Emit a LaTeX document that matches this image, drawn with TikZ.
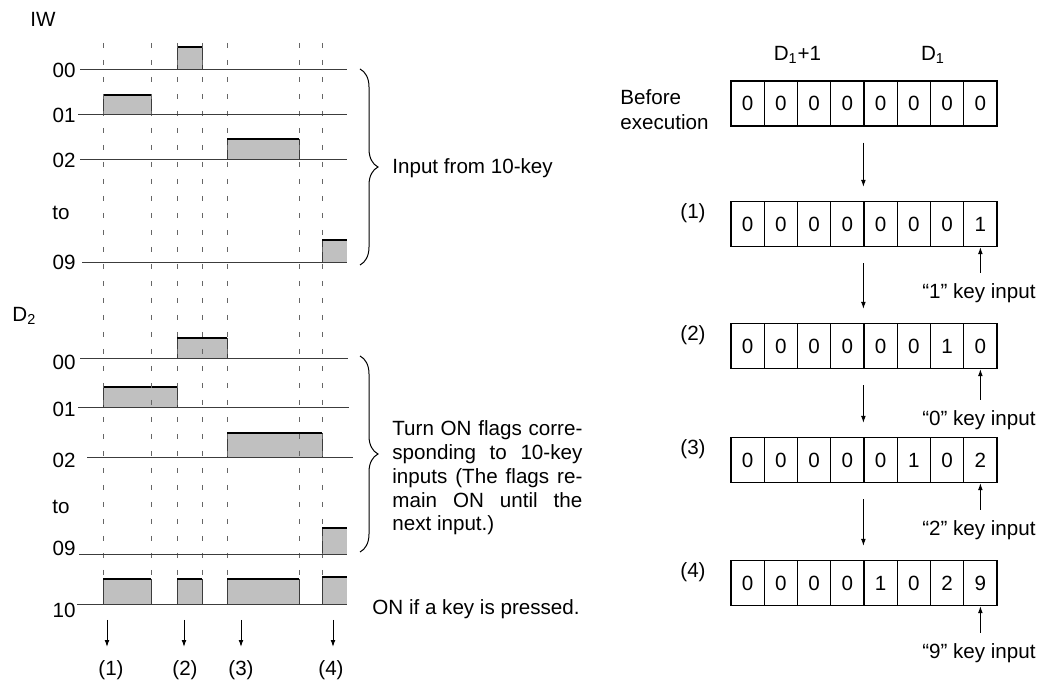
\documentclass[tikz,border=0pt]{standalone}
\usepackage{fontspec}
\setmainfont{Liberation Sans}
\usepackage{tikz}
\usetikzlibrary{arrows.meta, decorations.pathreplacing}
\definecolor{kpFill}{RGB}{192,192,192}
\definecolor{kpTrace}{RGB}{60,60,60}
\newcommand{\keyin}[1]{``#1'' key input}
\newcommand{\pulse}[4]{%
  \fill[kpFill] (#1,#3) rectangle (#2,#4);
  \draw[side] (#1,#3) -- (#1,#4) (#2,#4) -- (#2,#3);
  \draw[hi] (#1,#4) -- (#2,#4);}
\newcommand{\lastpulse}[4]{%
  \fill[kpFill] (#1,#3) rectangle (#2,#4);
  \draw[side] (#1,#3) -- (#1,#4);
  \draw[hi] (#1,#4) -- (#2,#4);}

\begin{document}
\begin{tikzpicture}[x=0.5pt, y=-0.5pt,
    font=\fontsize{10.3}{11.9}\selectfont,
    trace/.style={draw=kpTrace, line width=0.5pt},
    side/.style={draw=kpTrace, line width=0.5pt},
    hi/.style={draw=black, line width=1.1pt},
    guide/.style={draw=gray!80!black, line width=0.5pt, dash pattern=on 2.5pt off 6pt},
    cell/.style={draw, line width=0.6pt, minimum width=16.625pt, minimum height=22.5pt, inner sep=0pt},
    arr/.style={-{Latex[length=3.5pt, width=2.4pt]}, line width=0.5pt},
    brace/.style={decorate, decoration={brace, amplitude=9pt}, line width=0.5pt},
    lbl/.style={inner sep=0pt}
  ]
  \useasboundingbox (0,0) rectangle (1039,683);

  \pulse{177}{202}{70}{47}
  \pulse{103}{151}{115}{95}
  \pulse{227}{299}{160}{139}
  \lastpulse{322}{347}{263}{240}
  \pulse{177}{227}{359}{338}
  \pulse{103}{177}{408}{387}
  \pulse{227}{322}{458}{433}
  \lastpulse{322}{347}{555}{528}
  \foreach \xa/\xb in {103/151, 177/202, 227/299} {\pulse{\xa}{\xb}{605}{579}}
  \lastpulse{322}{347}{605}{577}

  \foreach \gx in {103,151,177,202,227,299,322}
    \draw[guide] (\gx,43) -- (\gx,577);

  \node[lbl, anchor=west] (iw) at (30,19) {IW};
  \foreach \nm/\ly/\ty/\xa/\xb in {00/70/70/80/347, 01/115/115/78/347, 02/160/160/80/347, 09/263/262/82/347} {
    \node[lbl, anchor=east] (iw\nm) at (76,\ty) {\nm};
    \draw[trace] (\xa,\ly) -- (\xb,\ly);
  }
  \node[lbl, anchor=west] (iwto) at (52,213) {to};

  \node[lbl, anchor=west] (dtwo) at (12,316) {D\textsubscript{2}};
  \foreach \nm/\ly/\ty/\xa/\xb in {00/359/362/80/348, 01/408/409/78/349, 02/458/460/87/353, 09/555/548/79/347, 10/605/610/77/347} {
    \node[lbl, anchor=east] (dw\nm) at (76,\ty) {\nm};
    \draw[trace] (\xa,\ly) -- (\xb,\ly);
  }
  \node[lbl, anchor=west] (dwto) at (52,507) {to};

  \draw[brace] (360,69) -- (360,265);
  \node[lbl, anchor=west] (iwtxt) at (392,168) {Input from 10-key};
  \draw[brace] (360,356) -- (360,552);
  \node[lbl, anchor=west, align=left] (dwtxt) at (392,478)
    {\makebox[95pt][s]{Turn ON flags corre-}\\
     \makebox[95pt][s]{sponding to 10-key}\\
     \makebox[95pt][s]{inputs (The flags re-}\\
     \makebox[95pt][s]{main ON until the}\\
     next input.)};
  \node[lbl, anchor=west] (ontxt) at (372,609) {ON if a key is pressed.};

  \foreach \i/\ax/\nx in {1/107/111, 2/184/185, 3/241/241, 4/333/331} {
    \node[lbl] (step\i) at (\nx,670) {(\i)};
    \coordinate (src\i) at (\ax,620);
    \draw[arr, shorten >=6.5pt] (src\i) -- (src\i |- step\i.north);
  }

  \node[lbl] (hiword) at (797.5,55) {D\textsubscript{1}+1};
  \node[lbl] (loword) at (933,55) {D\textsubscript{1}};
  \node[lbl, anchor=west, align=left, font=\fontsize{10.3}{12.5}\selectfont] (before) at (620,109.5) {Before\\execution};
  \foreach \row/\ty/\digits in {0/103.5/{0,0,0,0,0,0,0,0}, 1/224/{0,0,0,0,0,0,0,1},
      2/346/{0,0,0,0,0,0,1,0}, 3/460/{0,0,0,0,0,1,0,2}, 4/583/{0,0,0,0,1,0,2,9}} {
    \foreach \d [count=\c] in \digits
      \node[cell] (r\row c\c) at ({731+33.25*(\c-0.5)},\ty) {\d};
  }
  \foreach \row/\ty in {1/224, 2/346, 3/460, 4/583}
    \node[lbl] (tag\row) at (693,\ty-11) {(\row)};
  \foreach \a/\b in {0/1, 1/2, 2/3, 3/4}
    \draw[arr] ([yshift=-8pt]r\a c5.south west) -- ([yshift=7pt]r\b c5.north west);
  \foreach \row/\ky/\kd in {1/293/1, 2/420/0, 3/530/2, 4/653/9} {
    \node[lbl, anchor=east] (key\row) at (1036,\ky) {\keyin{\kd}};
    \draw[arr, shorten <=5pt] (key\row.north -| r\row c8.south) -- (r\row c8.south);
  }
\end{tikzpicture}
\end{document}
